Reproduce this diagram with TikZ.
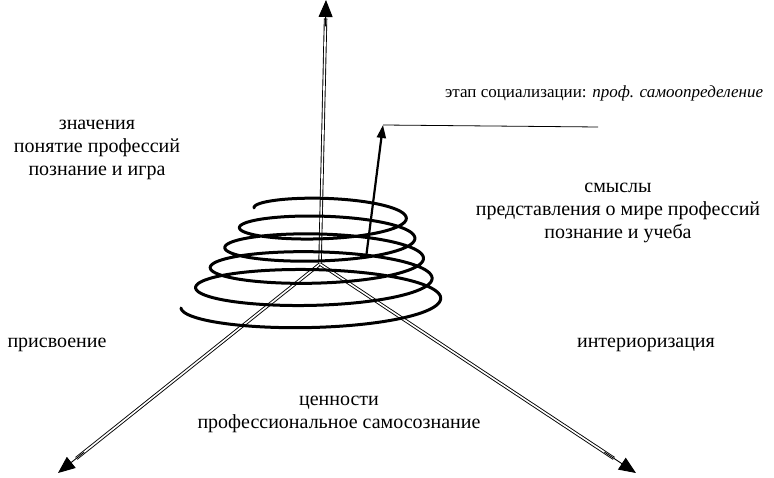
\documentclass[tikz,border=0pt]{standalone}
\usepackage{fontspec}
\setmainfont{Liberation Serif}
\usetikzlibrary{arrows.meta,calc}
\begin{document}
\begin{tikzpicture}[x=1pt,y=-1pt,
  dbl/.style={draw=black,double=white,double distance=1.6pt,line width=0.9pt},
  tipline/.style={line width=0.9pt,-{Triangle[length=17pt,width=14pt]}},
  lbl/.style={font=\fontsize{20}{23}\selectfont,align=center,inner sep=0pt},
  small/.style={font=\fontsize{17}{20}\selectfont,inner sep=0pt}]
\useasboundingbox (0,0) rectangle (774,478);
% axes
\coordinate (o) at (320,264);
\coordinate (top) at (326,0);
\coordinate (left) at (58,473);
\coordinate (right) at (636,473);
\draw[dbl] (o) -- ($(o)!0.93!(top)$);
\draw[dbl] (o) -- ($(o)!0.93!(left)$);
\draw[dbl] (o) -- ($(o)!0.93!(right)$);
\draw[tipline] ($(o)!0.9!(top)$) -- (top);
\draw[tipline] ($(o)!0.9!(left)$) -- (left);
\draw[tipline] ($(o)!0.9!(right)$) -- (right);
% spiral
\draw[line width=3pt,line join=round,line cap=round] plot[domain=180:1980,samples=500,smooth]
  ({328-15*((\x-180)/1800)+(74+58*((\x-180)/1800))*cos(\x)},{208+100*((\x-180)/1800)+(14+11*((\x-180)/1800))*sin(\x)});
% small arrow and leader
\coordinate (sa) at (366,258);
\coordinate (sb) at (383,125);
\coordinate (le) at (598,127);
\draw[line width=2.2pt,-{Triangle[length=13pt,width=9pt]}] (sa) -- (sb);
\draw[line width=0.8pt] (sb) -- (le);
% labels
\node[small,anchor=base west] (stage) at (445,98) {этап социализации: \textit{проф. самоопределение}};
\node[lbl] (zn) at (97,150) {значения\\понятие профессий\\познание и игра};
\node[lbl] (sm) at (618,213) {смыслы\\представления о мире профессий\\познание и учеба};
\node[lbl] (pr) at (57,345) {присвоение};
\node[lbl] (in) at (646,345) {интериоризация};
\node[lbl] (cen) at (339,414) {ценности\\профессиональное самосознание};
\end{tikzpicture}
\end{document}
